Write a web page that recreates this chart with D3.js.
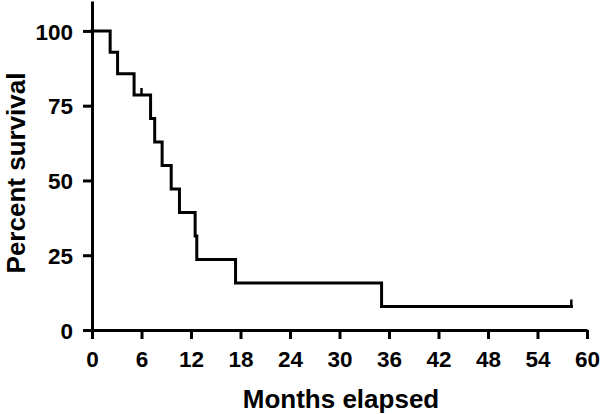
<!DOCTYPE html>
<html>
<head>
<meta charset="utf-8">
<script src="https://cdn.jsdelivr.net/npm/d3@7"></script>
<style>
  html, body { margin: 0; padding: 0; background: #fff; }
  svg { display: block; }
  text { font-family: "Liberation Sans", Arial, Helvetica, sans-serif; font-weight: bold; fill: #000; }
</style>
</head>
<body>
<svg id="chart" width="600" height="414"></svg>
<script>
// Kaplan–Meier step points (months, percent survival)
const eventTimes = [0, 2.2, 3.1, 5.1, 7.1, 7.6, 8.5, 9.6, 10.6, 12.5, 12.7, 17.4, 35.1, 58.1];
const survival   = [100, 92.86, 85.71, 78.57, 70.71, 62.86, 55.0, 47.14, 39.29, 31.43, 23.57, 15.71, 7.86, 7.86];
// Censored observations
const censorTimes    = [6.0, 58.1];
const censorSurvival = [78.57, 7.86];
// Tick labels
const xTicks = [0, 6, 12, 18, 24, 30, 36, 42, 48, 54, 60];
const yTicks = [0, 25, 50, 75, 100];
const xTitle = "Months elapsed";
const yTitle = "Percent survival";

const svg = d3.select("#chart");
const x = d3.scaleLinear().domain([0, 60]).range([92, 587]);
const y = d3.scaleLinear().domain([0, 110]).range([330, 1]);

// X axis
const xAxis = d3.axisBottom(x).tickValues(xTicks).tickSize(9).tickSizeOuter(0);
const gx = svg.append("g").attr("transform", `translate(0,${y(0)})`).call(xAxis);
gx.select(".domain").attr("stroke", "#000").attr("stroke-width", 3);
gx.selectAll(".tick line").attr("stroke", "#000").attr("stroke-width", 3);
gx.selectAll(".tick text").style("font-size", "22.5px").attr("y", 37).attr("dy", 0);

// Y axis
const yAxis = d3.axisLeft(y).tickValues(yTicks).tickSize(9).tickSizeOuter(0).tickPadding(10);
const gy = svg.append("g").attr("transform", `translate(${x(0)},0)`).call(yAxis);
gy.select(".domain").attr("stroke", "#000").attr("stroke-width", 3);
gy.selectAll(".tick line").attr("stroke", "#000").attr("stroke-width", 3);
gy.selectAll(".tick text").style("font-size", "22.5px").attr("dy", "0.36em");

// Survival curve
const pts = eventTimes.map((t, i) => [t, survival[i]]);
const line = d3.line().x(d => x(d[0])).y(d => y(d[1])).curve(d3.curveStepAfter);
svg.append("path").datum(pts)
  .attr("d", line)
  .attr("fill", "none")
  .attr("stroke", "#000")
  .attr("stroke-width", 3)
  .attr("stroke-linejoin", "miter")
  .attr("stroke-linecap", "square");

// Censor marks
svg.selectAll("line.censor").data(censorTimes.map((t, i) => [t, censorSurvival[i]]))
  .enter().append("line")
  .attr("class", "censor")
  .attr("x1", d => x(d[0])).attr("x2", d => x(d[0]))
  .attr("y1", d => y(d[1])).attr("y2", d => y(d[1]) - 7)
  .attr("stroke", "#000").attr("stroke-width", 2.5);

// Titles
svg.append("text").attr("x", 341).attr("y", 408).attr("text-anchor", "middle")
  .style("font-size", "26px").text(xTitle);
svg.append("text").attr("transform", "translate(25,173) rotate(-90)").attr("text-anchor", "middle")
  .style("font-size", "26px").text(yTitle);
</script>
</body>
</html>
